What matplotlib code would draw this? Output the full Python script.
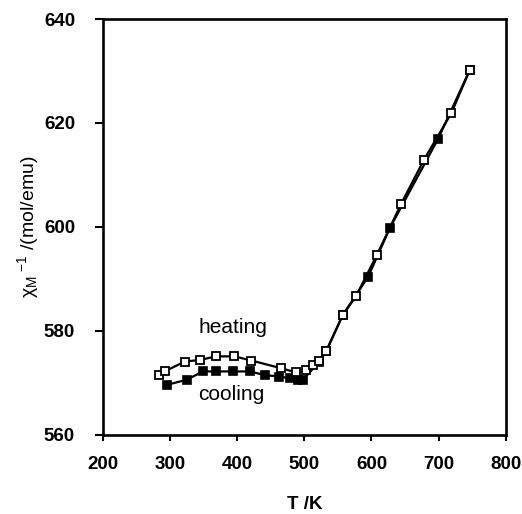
import matplotlib
matplotlib.use('Agg')
import matplotlib.pyplot as plt

# heating run (open squares)
T_heat = [283, 292, 322, 344, 369, 396, 421, 466, 488, 503, 513, 522, 533,
          557, 577, 608, 644, 678, 719, 746]
chi_heat = [571.6, 572.2, 574.1, 574.4, 575.1, 575.1, 574.3, 572.8, 572.0, 572.5,
            573.5, 574.2, 576.2, 583.0, 586.7, 594.6, 604.4, 612.9, 621.9, 630.1]

# cooling run (filled squares)
T_cool = [295, 325, 349, 369, 394, 419, 441, 463, 478, 491, 498, 522, 533,
          557, 595, 627, 699, 746]
chi_cool = [569.6, 570.6, 572.2, 572.2, 572.2, 572.2, 571.5, 571.2, 570.9, 570.6,
            570.6, 574.0, 576.2, 583.0, 590.4, 599.7, 616.9, 630.1]

plt.rcParams['font.family'] = ['Liberation Sans', 'DejaVu Sans']
plt.rcParams['mathtext.fontset'] = 'custom'
plt.rcParams['mathtext.rm'] = 'Liberation Sans'

fig = plt.figure(figsize=(5.22, 5.14), dpi=100)
ax = fig.add_axes([0.197, 0.154, 0.772, 0.809])

ax.plot(T_cool, chi_cool, 'k-', lw=1.6, marker='s', ms=6.2,
        mfc='black', mec='black', mew=1.2)
ax.plot(T_heat, chi_heat, 'k-', lw=1.6, marker='s', ms=6.2,
        mfc='white', mec='black', mew=1.3)

ax.set_xlim(200, 800)
ax.set_ylim(560, 640)
ax.set_xticks(range(200, 801, 100))
ax.set_yticks(range(560, 641, 20))

for s in ax.spines.values():
    s.set_linewidth(1.9)
ax.tick_params(axis='x', direction='out', length=4, width=1.5, pad=11,
               labelsize=13.5)
ax.tick_params(axis='y', direction='out', length=6, width=1.5, pad=14,
               labelsize=13.5)
for lab in ax.get_xticklabels() + ax.get_yticklabels():
    lab.set_fontweight('bold')

ax.text(393, 580.6, 'heating', ha='center', va='center', fontsize=15)
ax.text(391, 567.7, 'cooling', ha='center', va='center', fontsize=15)

ax.set_xlabel('T /K', fontsize=13.5, fontweight='bold', labelpad=17)
ax.set_ylabel(r'$\mathrm{\chi_M}^{\ \mathrm{-1}}$ /(mol/emu)', fontsize=14,
              labelpad=1)

plt.savefig('out.png', dpi=100)
